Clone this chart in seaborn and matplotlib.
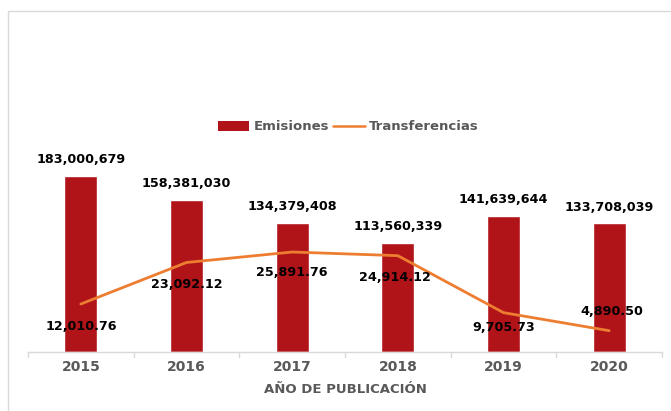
import numpy as np
import pandas as pd
import matplotlib
matplotlib.use("Agg")
import matplotlib.pyplot as plt
from matplotlib.patches import Rectangle
from matplotlib.lines import Line2D
from matplotlib.patches import Patch
import seaborn as sns

# Data
years = ["2015", "2016", "2017", "2018", "2019", "2020"]
emisiones = [183000679, 158381030, 134379408, 113560339, 141639644, 133708039]
transferencias = [12010.76, 23092.12, 25891.76, 24914.12, 9705.73, 4890.50]

BAR_COLOR = "#b01419"
LINE_COLOR = "#ed7d31"
TEXT_GRAY = "#595959"

sns.set_theme(style="white")
plt.rcParams["font.family"] = ["DejaVu Sans"]

fig = plt.figure(figsize=(6.71, 4.11), dpi=100)
fig.patch.set_facecolor("white")

# light frame around the chart area
fig.patches.append(Rectangle((8 / 671, -0.05), 1.0, 1 - 11 / 411 + 0.05,
                             transform=fig.transFigure, fill=False,
                             edgecolor="#d9d9d9", linewidth=1.0))

ax = fig.add_axes([28 / 671, 1 - 352 / 411, (662 - 28) / 671, (352 - 160) / 411])
df = pd.DataFrame({"year": years, "emisiones": emisiones,
                   "transferencias": transferencias})

sns.barplot(data=df, x="year", y="emisiones", color=BAR_COLOR, width=0.31,
            saturation=1, ax=ax)
ax.set_ylim(0, 199.6e6)
ax.set_xlim(-0.5, 5.5)
ax.set_yticks([])
ax.set_ylabel("")
for s in ["top", "right", "left"]:
    ax.spines[s].set_visible(False)
ax.spines["bottom"].set_color("#d9d9d9")
ax.spines["bottom"].set_linewidth(1.0)

ax.set_xticks(range(len(years)))
ax.set_xticklabels(years, fontsize=10, fontweight="bold", color=TEXT_GRAY)
ax.tick_params(axis="x", length=0, pad=6)
# boundary tick marks between categories
for xb in np.arange(-0.5, 6.0, 1.0):
    ax.plot([xb, xb], [0, -0.025], transform=ax.get_xaxis_transform(),
            color="#d9d9d9", lw=1.0, clip_on=False)
ax.set_xlabel("AÑO DE PUBLICACIÓN", fontsize=9.5, fontweight="bold",
              color=TEXT_GRAY, labelpad=6)

for i, v in enumerate(emisiones):
    ax.annotate(f"{v:,.0f}", (i, v), xytext=(0, 7), textcoords="offset points",
                ha="center", va="bottom", fontsize=9.2, fontweight="bold",
                color="black")

ax2 = ax.twinx()
sns.lineplot(x=np.arange(len(years)), y=transferencias, color=LINE_COLOR,
             linewidth=2, ax=ax2)
ax2.set_ylim(-800, 50450)
ax2.set_yticks([])
ax2.set_ylabel("")
for s in ["top", "right", "left", "bottom"]:
    ax2.spines[s].set_visible(False)

# label offsets (points) for the line values
label_offsets = [(0, -16), (0, -16), (0, -15), (-2, -16), (0, -11), (2, 14)]
for i, v in enumerate(transferencias):
    dx, dy = label_offsets[i]
    ax2.annotate(f"{v:,.2f}", (i, v), xytext=(dx, dy), textcoords="offset points",
                 ha="center", va="center", fontsize=9.2, fontweight="bold",
                 color="black")

handles = [Patch(facecolor=BAR_COLOR, edgecolor="none"),
           Line2D([0], [0], color=LINE_COLOR, lw=1.8)]
leg = fig.legend(handles, ["Emisiones", "Transferencias"], loc="center",
                 bbox_to_anchor=(348 / 671, 1 - 127 / 411), ncol=2, frameon=False,
                 fontsize=9.5, handlelength=2.4, handleheight=0.85,
                 columnspacing=0.3, handletextpad=0.3)
for t in leg.get_texts():
    t.set_color(TEXT_GRAY)
    t.set_fontweight("bold")

fig.savefig("out.png", dpi=100)
